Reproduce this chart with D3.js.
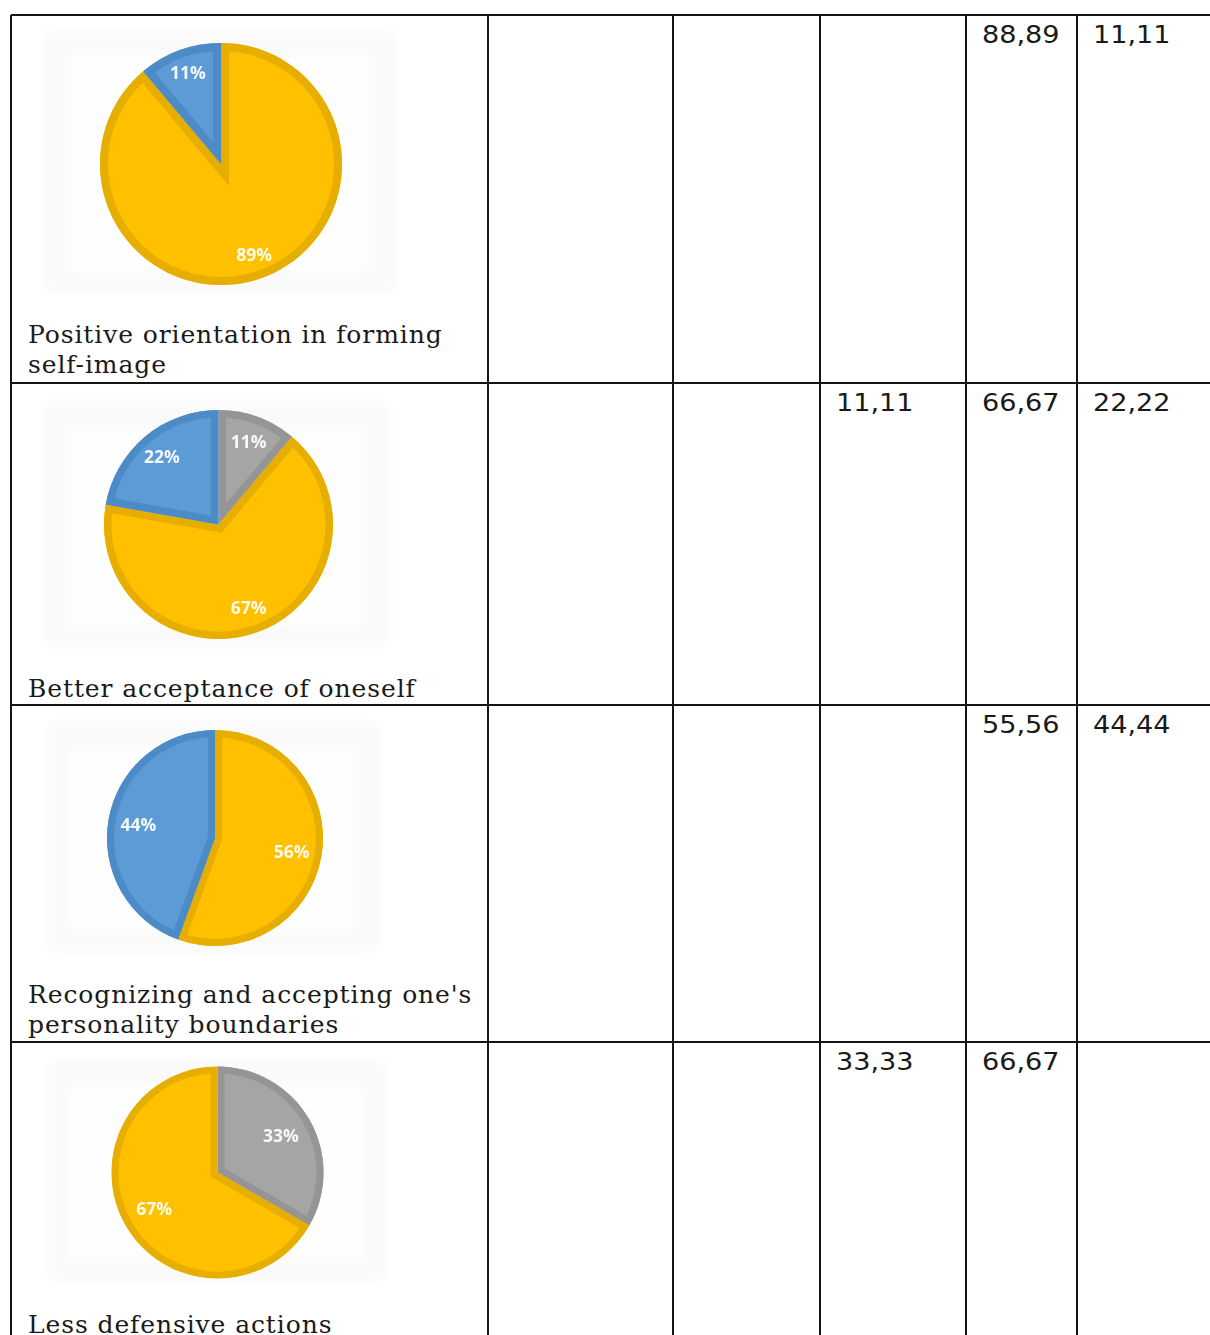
<!DOCTYPE html>
<html>
<head>
<meta charset="utf-8">
<script src="https://cdn.jsdelivr.net/npm/d3@7"></script>
<style>
  body { margin: 0; background: #fff; }
  svg { display: block; }
</style>
</head>
<body>
<svg id="chart" width="1210" height="1335"></svg>
<script>
// Statements, one table row each
const categories = [
  "Positive orientation in forming self-image",
  "Better acceptance of oneself",
  "Recognizing and accepting one's personality boundaries",
  "Less defensive actions"
];

// Share of respondents (%) per answer level, table columns 2–6
const level1 = [null, null, null, null];
const level2 = [null, null, null, null];
const level3 = [null, 11.11, null, 33.33];
const level4 = [88.89, 66.67, 55.56, 66.67];
const level5 = [11.11, 22.22, 44.44, null];
const levels = [level1, level2, level3, level4, level5];

// Slice fills and their darker outlines, by level
const levelFill = ["#70AD47", "#ED7D31", "#A5A5A5", "#FFC000", "#5B9BD5"];
const levelEdge = ["#5E9538", "#D06A22", "#959595", "#E6AE00", "#4D8BC6"];

// ---- layout ----
const colEdges = [11, 488, 673, 820, 966, 1077, 1240];
const rowEdges = [15, 383, 705, 1042, 1360];
const pieFrames = [
  { x: 43, y: 30,   w: 354, h: 263, cx: 221,   cy: 164,    r: 121,   lab: 0.80 },
  { x: 43, y: 402,  w: 347, h: 245, cx: 218.5, cy: 524.5,  r: 114.5, lab: 0.77 },
  { x: 47, y: 722,  w: 333, h: 231, cx: 215,   cy: 838,    r: 108,   lab: 0.72 },
  { x: 47, y: 1060, w: 340, h: 223, cx: 217.5, cy: 1172.5, r: 106,   lab: 0.69 }
];

const svg = d3.select("#chart");
const defs = svg.append("defs");
defs.append("filter").attr("id", "soft")
  .append("feGaussianBlur").attr("stdDeviation", 0.7);
defs.append("filter").attr("id", "haze")
  .attr("x", "-10%").attr("y", "-10%").attr("width", "120%").attr("height", "120%")
  .append("feGaussianBlur").attr("stdDeviation", 4);

const commaFmt = d3.formatLocale({ decimal: ",", thousands: " ", grouping: [3], currency: ["", ""] }).format(".2f");
const pctFmt = d3.format(".0%");

const pie = d3.pie().sort(null).value(d => d.value);

categories.forEach((cat, i) => {
  const f = pieFrames[i];
  const g = svg.append("g");

  // faint chart-area backdrop
  g.append("rect")
    .attr("x", f.x).attr("y", f.y).attr("width", f.w).attr("height", f.h)
    .attr("rx", 10).attr("fill", "#fafafa").attr("filter", "url(#haze)");
  g.append("rect")
    .attr("x", f.x + 24).attr("y", f.y + 26).attr("width", f.w - 50).attr("height", f.h - 48)
    .attr("fill", "#fefefe").attr("filter", "url(#haze)");

  // slices for this row, in column order
  const slices = levels
    .map((arr, j) => ({ level: j, value: arr[i] }))
    .filter(d => d.value != null);
  const arcs = pie(slices);
  const arc = d3.arc().innerRadius(0).outerRadius(f.r);
  const labelArc = d3.arc().innerRadius(f.r * f.lab).outerRadius(f.r * f.lab);
  const bw = f.r * 0.066;

  const pg = g.append("g")
    .attr("transform", `translate(${f.cx},${f.cy})`)
    .attr("filter", "url(#soft)");

  arcs.forEach((a, k) => {
    const id = `clip-${i}-${k}`;
    defs.append("clipPath").attr("id", id)
      .append("path").attr("d", arc(a));
    pg.append("path")
      .attr("d", arc(a))
      .attr("fill", levelFill[a.data.level]);
    pg.append("path")
      .attr("d", arc(a))
      .attr("fill", "none")
      .attr("stroke", levelEdge[a.data.level])
      .attr("stroke-width", bw * 2)
      .attr("stroke-linejoin", "miter")
      .attr("clip-path", `url(#${id})`);
  });

  // percentage labels
  g.append("g")
    .attr("transform", `translate(${f.cx},${f.cy})`)
    .attr("filter", "url(#soft)")
    .selectAll("text")
    .data(arcs)
    .join("text")
    .attr("transform", d => `translate(${labelArc.centroid(d)})`)
    .attr("text-anchor", "middle")
    .attr("dy", "0.36em")
    .attr("font-family", "'Open Sans', 'Noto Sans', sans-serif")
    .attr("font-weight", 700)
    .attr("font-size", 17.5)
    .attr("fill", "#ffffff")
    .attr("fill-opacity", 0.93)
    .text(d => pctFmt(d.data.value / 100));

  // category caption, wrapped to the cell width
  const cap = g.append("text")
    .attr("font-family", "'DejaVu Serif', serif")
    .attr("font-size", 25)
    .attr("letter-spacing", 0.9)
    .attr("fill", "#1a1a1a");
  const maxW = colEdges[1] - 28 - 4;
  const words = cat.split(" ");
  let lines = [], cur = [];
  const probe = cap.append("tspan");
  words.forEach(w => {
    const test = cur.concat(w).join(" ");
    probe.text(test);
    if (probe.node().getComputedTextLength() > maxW && cur.length) {
      lines.push(cur.join(" "));
      cur = [w];
    } else {
      cur.push(w);
    }
  });
  lines.push(cur.join(" "));
  probe.remove();
  lines.forEach((ln, k) => {
    cap.append("tspan")
      .attr("x", 28)
      .attr("y", f.y + f.h + 50 + k * 30)
      .text(ln);
  });

  // numeric cells
  levels.forEach((arr, j) => {
    const v = arr[i];
    if (v == null) return;
    svg.append("text")
      .attr("transform", `translate(${colEdges[j + 1] + 16},${rowEdges[i] + 28}) scale(1.13,1)`)
      .attr("font-family", "'DejaVu Sans', Verdana, sans-serif")
      .attr("font-size", 24)
      .attr("fill", "#1a1a1a")
      .text(commaFmt(v));
  });
});

// table grid
const grid = svg.append("g")
  .attr("stroke", "#151515")
  .attr("stroke-width", 2)
  .attr("shape-rendering", "crispEdges");
colEdges.slice(0, -1).forEach(x => {
  grid.append("line").attr("x1", x).attr("x2", x)
    .attr("y1", rowEdges[0]).attr("y2", rowEdges[rowEdges.length - 1]);
});
rowEdges.slice(0, -1).forEach(y => {
  grid.append("line").attr("x1", colEdges[0]).attr("x2", colEdges[colEdges.length - 1])
    .attr("y1", y).attr("y2", y);
});
</script>
</body>
</html>
